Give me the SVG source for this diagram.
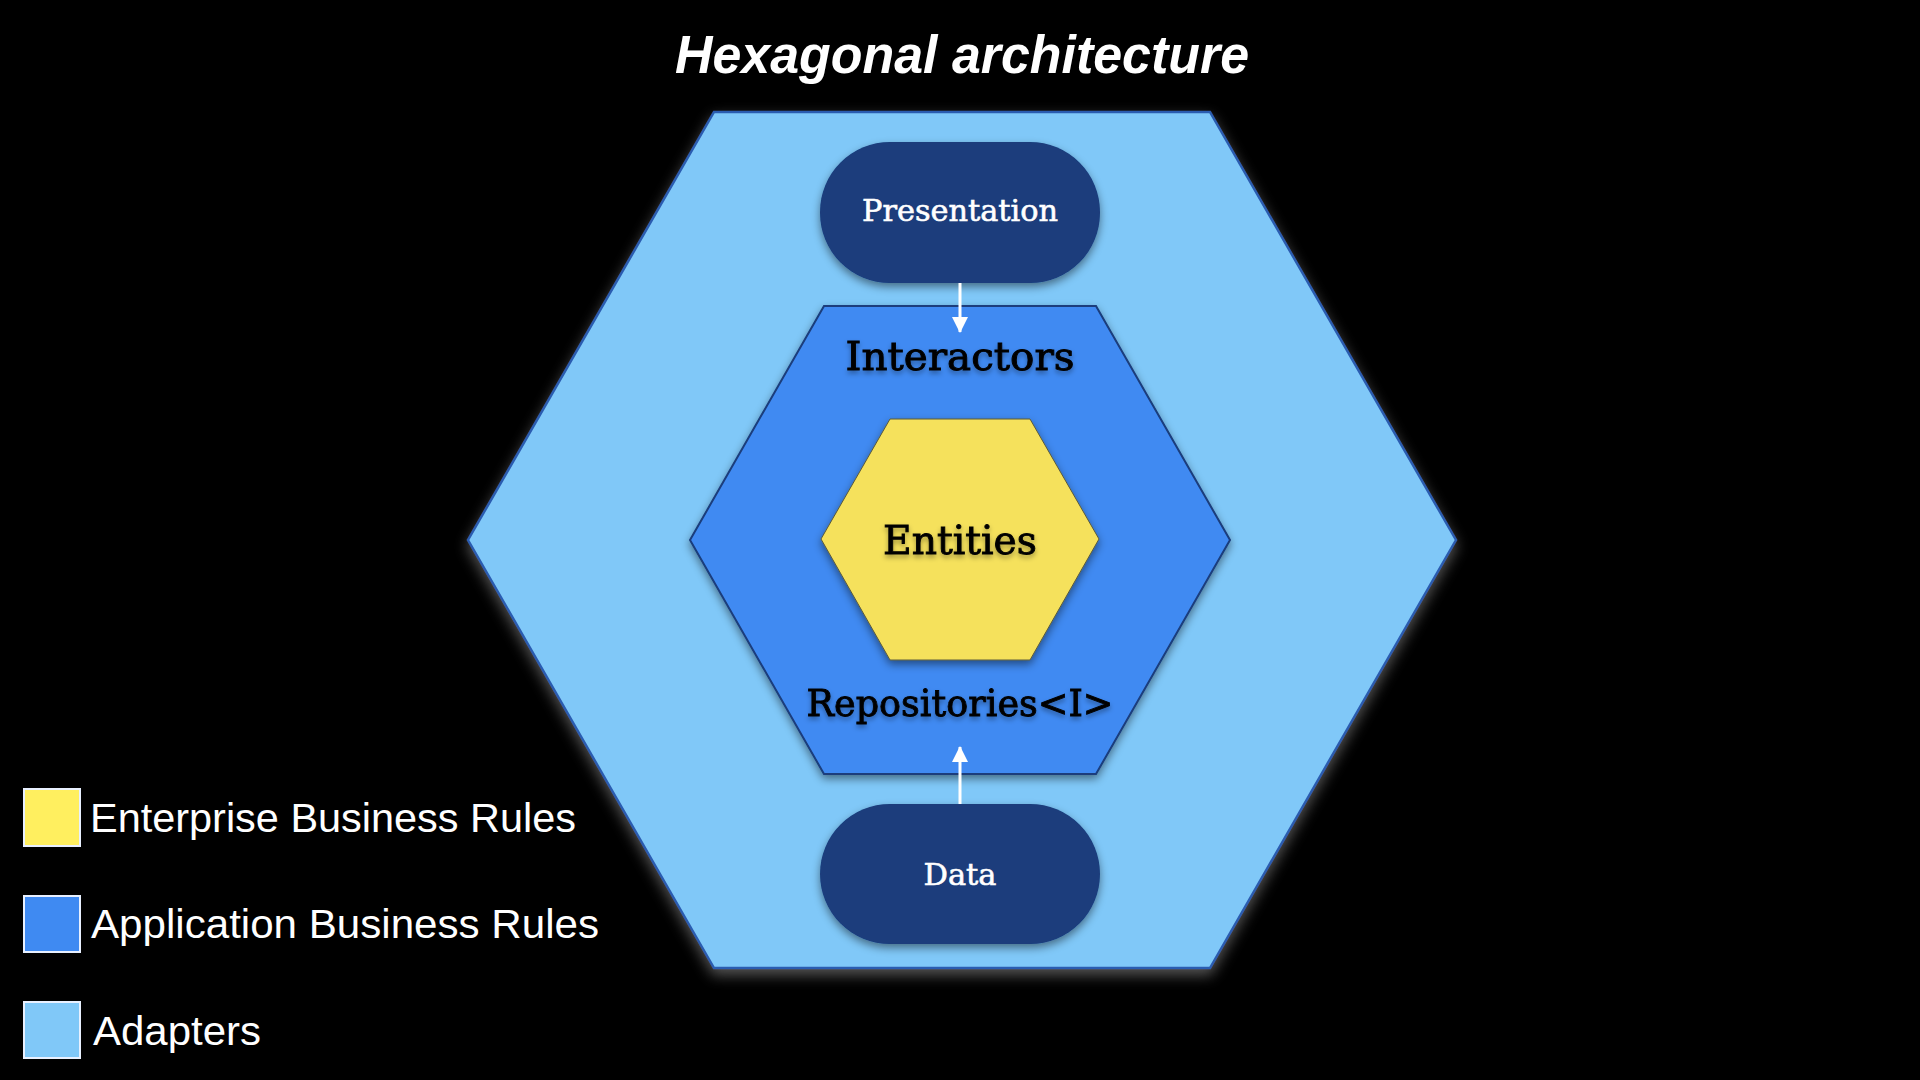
<svg xmlns="http://www.w3.org/2000/svg" width="1920" height="1080" viewBox="0 0 1920 1080">
<defs>
<filter id="glow" x="-10%" y="-10%" width="120%" height="125%">
<feDropShadow dx="0" dy="6" stdDeviation="7" flood-color="#9a9a9a" flood-opacity="0.55"/>
</filter>
<filter id="shadow" x="-10%" y="-10%" width="120%" height="130%">
<feDropShadow dx="0" dy="4" stdDeviation="4" flood-color="#000" flood-opacity="0.45"/>
</filter>
<filter id="tshadow" x="-10%" y="-20%" width="120%" height="150%">
<feDropShadow dx="0" dy="3" stdDeviation="2.5" flood-color="#000" flood-opacity="0.35"/>
</filter>
<marker id="arrow" viewBox="0 0 16 16" refX="15" refY="8" markerWidth="16" markerHeight="16" markerUnits="userSpaceOnUse" orient="auto">
<path d="M0,0 L16,8 L0,16 Z" fill="#ffffff"/>
</marker>
<style>
.bg{fill:#000000}
.outer{fill:#80C8F8;stroke:#2A5CB0;stroke-width:2.5}
.middle{fill:#3F8AF2;stroke:#1A3D7C;stroke-width:2}
.inner{fill:#F5E15C;stroke:#5a5a3a;stroke-width:1}
.pill{fill:#1A3D7C}
.lbl{font-family:"DejaVu Serif","Liberation Serif",serif;text-anchor:middle}
.dark{fill:#000000;stroke:#000000;stroke-width:0.9}
.light{fill:#ffffff;stroke:#ffffff;stroke-width:0.6}
.title{font-family:"Liberation Sans",Arial,sans-serif;font-weight:bold;font-style:italic;font-size:54px;fill:#ffffff;text-anchor:middle}
.leg{font-family:"Liberation Sans",Arial,sans-serif;font-size:41px;fill:#ffffff}
.sw{stroke:#e8f0ff;stroke-width:2}
.conn{stroke:#ffffff;stroke-width:3;fill:none}
</style>
</defs>
<rect class="bg" x="0" y="0" width="1920" height="1080"/>
<text class="title" x="962" y="73" textLength="574" lengthAdjust="spacingAndGlyphs">Hexagonal architecture</text>

<g id="adapters">
<polygon class="outer" filter="url(#glow)" points="714,112 1210,112 1456,540 1210,968 714,968 468,540"/>
</g>
<g id="application">
<polygon class="middle" filter="url(#shadow)" points="824,306 1096,306 1230,540 1096,774 824,774 690,540"/>
<text class="lbl dark" filter="url(#tshadow)" x="960" y="370" font-size="39" textLength="229" lengthAdjust="spacingAndGlyphs">Interactors</text>
<text class="lbl dark" filter="url(#tshadow)" x="960" y="716" font-size="38" textLength="307" lengthAdjust="spacingAndGlyphs">Repositories&lt;I&gt;</text>
</g>
<g id="entities">
<polygon class="inner" filter="url(#shadow)" points="890,419 1030,419 1099,539 1030,660 890,660 821,539"/>
<text class="lbl dark" filter="url(#tshadow)" x="960" y="554" font-size="39" textLength="154" lengthAdjust="spacingAndGlyphs">Entities</text>
</g>
<g id="presentation">
<rect class="pill" filter="url(#shadow)" x="820" y="142" width="280" height="141" rx="70" ry="70"/>
<text class="lbl light" x="960" y="221" font-size="30" textLength="196" lengthAdjust="spacingAndGlyphs">Presentation</text>
</g>
<g id="data">
<rect class="pill" filter="url(#shadow)" x="820" y="804" width="280" height="140" rx="70" ry="70"/>
<text class="lbl light" x="960" y="885" font-size="30" textLength="73" lengthAdjust="spacingAndGlyphs">Data</text>
</g>
<g id="connectors">
<line class="conn" x1="960" y1="283" x2="960" y2="332" marker-end="url(#arrow)"/>
<line class="conn" x1="960" y1="804" x2="960" y2="747" marker-end="url(#arrow)"/>
</g>
<g id="legend">
<rect class="sw" x="24" y="789" width="56" height="57" fill="#FFEF5F"/>
<text class="leg" x="90" y="832" textLength="486" lengthAdjust="spacingAndGlyphs">Enterprise Business Rules</text>
<rect class="sw" x="24" y="896" width="56" height="56" fill="#3F8AF2"/>
<text class="leg" x="91" y="938" textLength="508" lengthAdjust="spacingAndGlyphs">Application Business Rules</text>
<rect class="sw" x="24" y="1002" width="56" height="56" fill="#80C8F8"/>
<text class="leg" x="93" y="1045" textLength="168" lengthAdjust="spacingAndGlyphs">Adapters</text>
</g>
</svg>
